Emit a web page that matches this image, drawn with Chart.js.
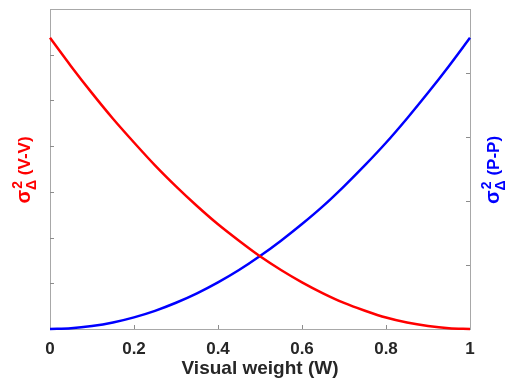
<!DOCTYPE html>
<html>
<head>
<meta charset="utf-8">
<script src="https://cdn.jsdelivr.net/npm/chart.js@4.4.1/dist/chart.umd.min.js"></script>
<style>
  html, body { margin: 0; padding: 0; background: #ffffff; }
  #wrap { width: 513px; height: 385px; }
</style>
</head>
<body>
<div id="wrap"><canvas id="c" width="513" height="385"></canvas></div>
<script>
// Visual weight W (x values)
const weights = [0, 0.05, 0.1, 0.15, 0.2, 0.25, 0.3, 0.35, 0.4, 0.45, 0.5,
                 0.55, 0.6, 0.65, 0.7, 0.75, 0.8, 0.85, 0.9, 0.95, 1];
// sigma^2_Delta (V-V), left axis (red)
const varVV = [6.37, 5.75, 5.16, 4.60, 4.08, 3.58, 3.12, 2.69, 2.29, 1.93, 1.59,
               1.29, 1.02, 0.78, 0.57, 0.40, 0.25, 0.14, 0.064, 0.016, 0];
// sigma^2_Delta (P-P), right axis (blue)
const varPP = [0, 0.011, 0.046, 0.102, 0.182, 0.284, 0.41, 0.557, 0.728, 0.921, 1.14,
               1.38, 1.64, 1.92, 2.23, 2.56, 2.91, 3.29, 3.69, 4.11, 4.55];
// axis definitions
const xTicks = [0, 0.2, 0.4, 0.6, 0.8, 1];
const leftRange = [0, 7];
const rightRange = [0, 5];
const xTitle = 'Visual weight (W)';
const leftLabelTail = ' (V-V)';
const rightLabelTail = ' (P-P)';

const AXIS_GRAY = '#a8a8a8';
const TEXT_DARK = '#262626';

function drawRichLabel(ctx, cx, cy, color, tail) {
  ctx.save();
  ctx.translate(cx, cy);
  ctx.rotate(-Math.PI / 2);
  ctx.fillStyle = color;
  ctx.textBaseline = 'alphabetic';
  ctx.textAlign = 'left';
  const fMain = 'bold 20px "Liberation Sans", Arial, sans-serif';
  const fSmall = 'bold 14px "Liberation Sans", Arial, sans-serif';
  const fTail = 'bold 17px "Liberation Sans", Arial, sans-serif';
  ctx.font = fMain; const wS = ctx.measureText('σ').width;
  ctx.font = fSmall; const w2 = ctx.measureText('2').width; const wD = ctx.measureText('Δ').width;
  const wSmall = Math.max(w2, wD);
  ctx.font = fTail; const wT = ctx.measureText(tail).width;
  const total = wS + wSmall + wT;
  let x = -total / 2;
  const base = 7;
  ctx.font = fMain; ctx.fillText('σ', x, base); x += wS;
  ctx.font = fSmall;
  ctx.fillText('2', x + (wSmall - w2) / 2, base - 8);
  ctx.fillText('Δ', x + (wSmall - wD) / 2, base + 6);
  x += wSmall;
  ctx.font = fTail; ctx.fillText(tail, x, base);
  ctx.restore();
}

const framePlugin = {
  id: 'frame',
  beforeDatasetsDraw(chart) {
    const { ctx, chartArea: a, scales } = chart;
    ctx.save();
    ctx.strokeStyle = AXIS_GRAY;
    ctx.lineWidth = 1;
    ctx.strokeRect(Math.round(a.left) + 0.5, Math.round(a.top) + 0.5,
                   Math.round(a.right - a.left), Math.round(a.bottom - a.top));
    ctx.strokeStyle = '#8c8c8c';
    ctx.beginPath();
    scales.x.ticks.forEach(t => {
      if (t.value <= 0 || t.value >= 1) return;
      const px = Math.round(scales.x.getPixelForValue(t.value)) + 0.5;
      ctx.moveTo(px, a.bottom); ctx.lineTo(px, a.bottom - 4);
    });
    scales.y.ticks.forEach(t => {
      if (t.value <= leftRange[0] || t.value >= leftRange[1]) return;
      const py = Math.round(scales.y.getPixelForValue(t.value)) + 0.5;
      ctx.moveTo(a.left, py); ctx.lineTo(a.left + 4, py);
    });
    scales.y1.ticks.forEach(t => {
      if (t.value <= rightRange[0] || t.value >= rightRange[1]) return;
      const py = Math.round(scales.y1.getPixelForValue(t.value)) + 0.5;
      ctx.moveTo(a.right, py); ctx.lineTo(a.right - 4, py);
    });
    ctx.stroke();
    ctx.restore();
  },
  afterDraw(chart) {
    const { ctx, chartArea: a } = chart;
    const cy = (a.top + a.bottom) / 2 + 1;
    drawRichLabel(ctx, a.left - 27, cy, '#ff0000', leftLabelTail);
    drawRichLabel(ctx, a.right + 22, cy, '#0000ff', rightLabelTail);
  }
};

new Chart(document.getElementById('c'), {
  type: 'line',
  data: {
    datasets: [
      {
        label: 'V-V',
        data: weights.map((w, i) => ({ x: w, y: varVV[i] })),
        yAxisID: 'y',
        borderColor: '#ff0000',
        borderWidth: 2.5,
        pointRadius: 0,
        cubicInterpolationMode: 'monotone',
        fill: false,
        clip: false
      },
      {
        label: 'P-P',
        data: weights.map((w, i) => ({ x: w, y: varPP[i] })),
        yAxisID: 'y1',
        borderColor: '#0000ff',
        borderWidth: 2.5,
        pointRadius: 0,
        cubicInterpolationMode: 'monotone',
        fill: false,
        clip: false
      }
    ]
  },
  plugins: [framePlugin],
  options: {
    responsive: false,
    animation: false,
    layout: { padding: { top: 9, left: 0, right: 0, bottom: 0 } },
    plugins: { legend: { display: false }, tooltip: { enabled: false } },
    scales: {
      x: {
        type: 'linear',
        min: xTicks[0],
        max: xTicks[xTicks.length - 1],
        afterBuildTicks: s => { s.ticks = xTicks.map(v => ({ value: v })); },
        afterFit: s => { s.height = 56; },
        grid: { display: false, drawTicks: false },
        border: { display: false },
        ticks: {
          padding: 10,
          color: TEXT_DARK,
          font: { family: '"Liberation Sans", Arial, sans-serif', size: 17, weight: 'bold' },
          callback: v => String(Number(v.toFixed(1))),
          maxRotation: 0
        },
        title: {
          display: true,
          text: xTitle,
          color: TEXT_DARK,
          font: { family: '"Liberation Sans", Arial, sans-serif', size: 19, weight: 'bold' },
          padding: { top: 0, bottom: 5 }
        }
      },
      y: {
        type: 'linear',
        position: 'left',
        min: leftRange[0],
        max: leftRange[1],
        ticks: { display: false, stepSize: 1 },
        grid: { display: false, drawTicks: false },
        border: { display: false },
        afterFit: s => { s.width = 50; }
      },
      y1: {
        type: 'linear',
        position: 'right',
        min: rightRange[0],
        max: rightRange[1],
        ticks: { display: false, stepSize: 1 },
        grid: { display: false, drawTicks: false },
        border: { display: false },
        afterFit: s => { s.width = 43; }
      }
    }
  }
});
</script>
</body>
</html>
